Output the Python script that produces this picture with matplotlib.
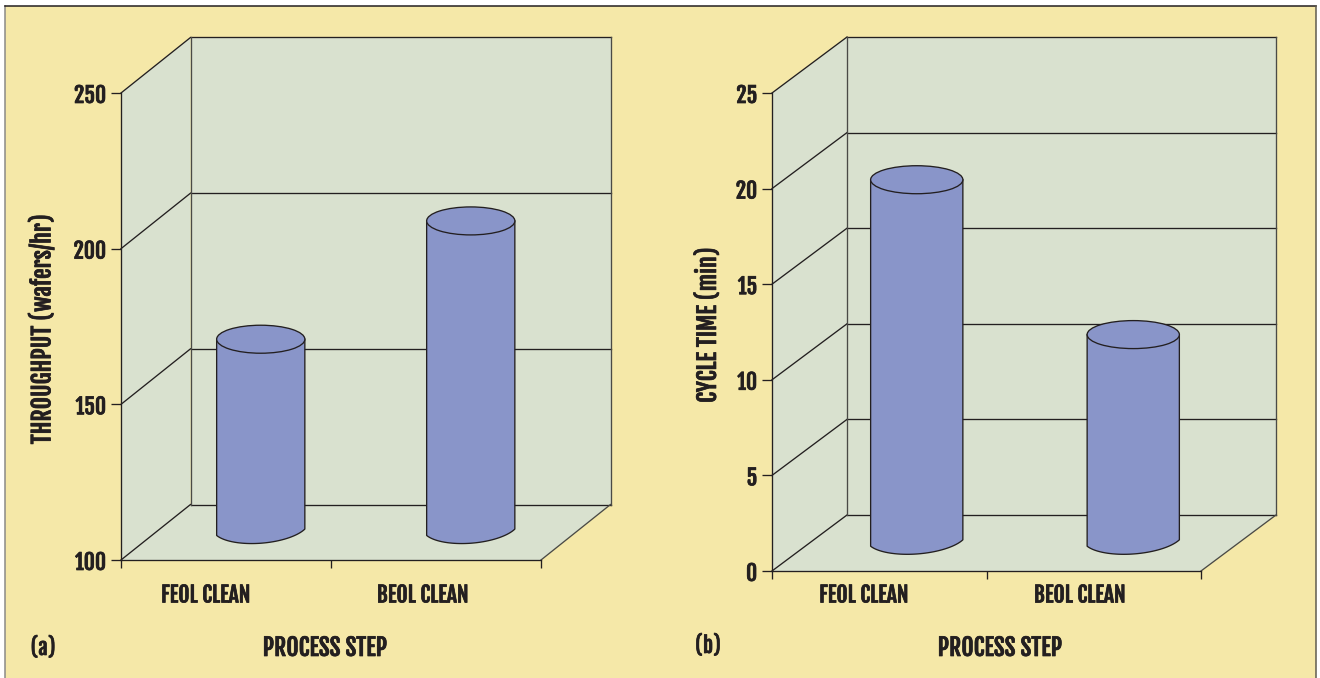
import numpy as np
import matplotlib
matplotlib.use('Agg')
import matplotlib.pyplot as plt
import matplotlib.patheffects as pe
from matplotlib.lines import Line2D
from matplotlib.patches import Ellipse, Polygon, Rectangle
from matplotlib.transforms import IdentityTransform

plt.rcParams['font.family'] = ['Fjalla One', 'Lato', 'DejaVu Sans']

# Values
categories = ['FEOL CLEAN', 'BEOL CLEAN']
throughput = [162, 200]
throughput_ticks = [100, 150, 200, 250]
cycle_time = [19, 10.9]
cycle_ticks = [0, 5, 10, 15, 20, 25]

W, H = 1320, 678
INK = '#231f20'
SAND = '#f5e8a8'
WALL = '#d9e1cf'
BAR = '#8995c9'
LW = 0.95
# Thickens the text a little
HEAVY = [pe.withStroke(linewidth=0.5, foreground=INK)]

fig = plt.figure(figsize=(W / 100, H / 100), dpi=100, facecolor='white')

# Page background and its border
fig.add_artist(Rectangle((5 / W, 0), 1311 / W, 1 - 6 / H, transform=fig.transFigure,
                         facecolor=SAND, edgecolor='none', zorder=-2))
fig.add_artist(Line2D([5 / W, 5 / W], [0, 1 - 6 / H], color='#8a8a88', lw=1.1, zorder=-1))
fig.add_artist(Line2D([5 / W, 1316 / W], [1 - 6 / H, 1 - 6 / H], color=INK, lw=1.1, zorder=-1))
fig.add_artist(Line2D([1316 / W, 1316 / W], [0, 1 - 6 / H], color='#5f5c50', lw=1.1, zorder=-1))


def draw_panel(box, depth, values, ticks, ylabel, ylabel_pos, bar_width, bar_shift,
               label_shift, label_drop, xlabel_x, tag, tag_pos):
    left, top, right, bottom = box
    ax = fig.add_axes([left / W, 1 - bottom / H, (right - left) / W, (bottom - top) / H])
    ax.set_xlim(0, len(values))
    ax.set_ylim(ticks[0], ticks[-1])
    ax.patch.set_visible(False)
    for side in ['top', 'right']:
        ax.spines[side].set_visible(False)
    for side in ['left', 'bottom']:
        ax.spines[side].set_color(INK)
        ax.spines[side].set_linewidth(LW)
        ax.spines[side].set_zorder(6)
    ax.set_xticks(range(len(values) + 1))
    ax.set_xticklabels([])
    ax.set_yticks(ticks)
    ax.tick_params(axis='x', length=5.8, width=LW, color=INK)
    ax.tick_params(axis='y', length=7.2, width=LW, color=INK, pad=3.4,
                   labelsize=15.5, labelcolor=INK)
    for lab in ax.get_yticklabels():
        lab.set_path_effects(HEAVY)

    # Data position at a fraction of the chart depth, in pixels
    def proj(x, y, frac=0.0):
        px, py = ax.transData.transform((x, y))
        return px + frac * depth[0], py + frac * depth[1]

    def poly(points, **kw):
        ax.add_patch(Polygon(points, closed=True, transform=IdentityTransform(),
                             clip_on=False, **kw))

    def seg(a, b, zorder=2, color=INK):
        ax.add_line(Line2D([a[0], b[0]], [a[1], b[1]], transform=IdentityTransform(),
                           color=color, lw=LW, zorder=zorder, clip_on=False))

    n = len(values)
    y0, y1 = ticks[0], ticks[-1]

    # Walls and floor
    poly([proj(0, y0, 1), proj(n, y0, 1), proj(n, y1, 1), proj(0, y1, 1)],
         facecolor=WALL, edgecolor='none', zorder=1)
    poly([proj(0, y0), proj(0, y0, 1), proj(0, y1, 1), proj(0, y1)],
         facecolor=WALL, edgecolor='none', zorder=1)
    poly([proj(0, y0), proj(n, y0), proj(n, y0, 1), proj(0, y0, 1)],
         facecolor=WALL, edgecolor='none', zorder=1)

    for t in ticks:
        seg(proj(0, t), proj(0, t, 1))
        seg(proj(0, t, 1), proj(n, t, 1))
    seg(proj(0, y0, 1), proj(0, y1, 1), color='#4a4a46')
    seg(proj(n, y0, 1), proj(n, y1, 1), color='#4a4a46')
    seg(proj(n, y0), proj(n, y0, 1), color='#4a4a46')

    # Cylinders stand halfway back on the floor
    half = bar_width / 2
    for i, v in enumerate(values):
        cx, top_y = proj(i + 0.5, v, 0.5)
        cx += bar_shift[i]
        base_y = proj(i + 0.5, y0, 0.5)[1]
        a = half * (right - left) / n
        xl, xr = cx - a, cx + a
        # Lower rim: a cut-off, slightly tilted ellipse, so the corners stay sharp
        s = np.linspace(-1, 1, 60)
        arc_x = cx + a * s
        arc_y = base_y - 18 * (np.sqrt(1 - (0.92 * s) ** 2) - 0.39) + 3.2 * s
        body = [(xl, top_y)] + list(zip(arc_x, arc_y)) + [(xr, top_y)]
        poly(body, facecolor=BAR, edgecolor='none', zorder=4)
        ax.add_line(Line2D([xl, *arc_x, xr], [top_y, *arc_y, top_y],
                           transform=IdentityTransform(), color=INK, lw=LW,
                           zorder=5, clip_on=False))
        ax.add_patch(Ellipse((cx, top_y), 2 * a, 28, transform=IdentityTransform(),
                             facecolor=BAR, edgecolor=INK, lw=LW, zorder=5, clip_on=False))

    # Axis text
    for i, name in enumerate(categories):
        ax.annotate(name, xy=(i + 0.5, y0), xycoords='data',
                    xytext=(label_shift[i], label_drop),
                    textcoords='offset points', ha='center', va='center', fontsize=15.5,
                    color=INK, annotation_clip=False, path_effects=HEAVY)
    fig.text(ylabel_pos[0] / W, 1 - ylabel_pos[1] / H, ylabel, rotation=90, ha='center',
             va='center', fontsize=17, color=INK, path_effects=HEAVY)
    fig.text(xlabel_x / W, 1 - 648 / H, 'PROCESS STEP', ha='center', va='center',
             fontsize=17, color=INK, path_effects=HEAVY)
    fig.text(tag_pos[0] / W, 1 - tag_pos[1] / H, tag, ha='center', va='center',
             fontsize=15, color=INK, path_effects=HEAVY)


draw_panel((121, 93, 541, 560), (69.5, 55.5), throughput, throughput_ticks,
           'THROUGHPUT (wafers/hr)', (42, 329), 0.42, (0, 0), (-14.5, -9.5), -25.2,
           325, '(a)', (43, 648))
draw_panel((772, 93, 1201, 571), (75, 56), cycle_time, cycle_ticks,
           'CYCLE TIME (min)', (708, 325), 0.43, (0, 2), (-11, -10), -17.3,
           1000, '(b)', (708, 646))

fig.savefig('out.png', dpi=100)
